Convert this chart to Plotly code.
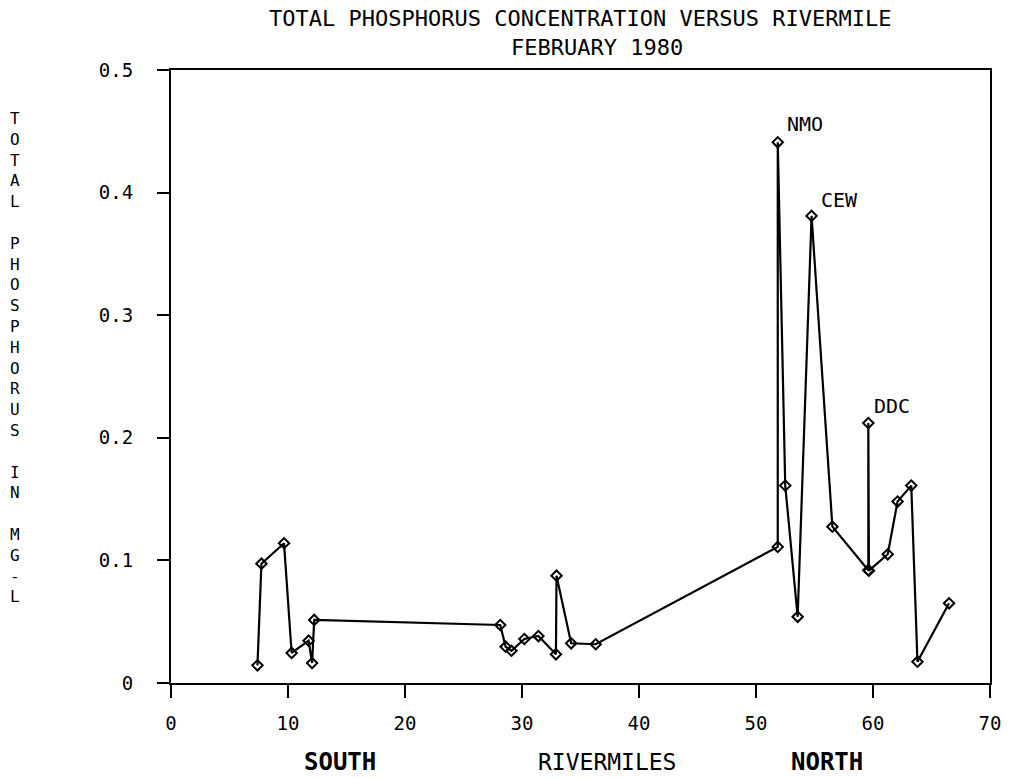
import plotly.graph_objects as go

# River miles (x) and total phosphorus in mg/L (y), in drawing order
rivermile = [7.39, 7.73, 9.66, 10.31, 11.76, 12.06, 12.24,
             28.14, 28.6, 29.1, 30.2, 31.4, 32.9, 32.95, 34.2, 36.3,
             51.86, 51.86, 52.5, 53.56, 54.75, 56.53,
             59.6, 59.6, 59.65, 61.26, 62.1, 63.27, 63.8, 66.5]
phosphorus = [0.0144, 0.0973, 0.114, 0.0245, 0.0345, 0.0163, 0.0514,
              0.0473, 0.0296, 0.0263, 0.0359, 0.0383, 0.0234, 0.0875, 0.0324, 0.0316,
              0.111, 0.441, 0.161, 0.054, 0.381, 0.1275,
              0.092, 0.212, 0.0916, 0.105, 0.148, 0.161, 0.0174, 0.065]

# Station labels
station_names = ["NMO", "CEW", "DDC"]
station_x = [52.5, 55.4, 59.9]
station_y = [0.456, 0.394, 0.2263]

x_ticks = [0, 10, 20, 30, 40, 50, 60, 70]
y_ticks = [0, 0.1, 0.2, 0.3, 0.4, 0.5]
y_tick_text = ["0", "0.1", "0.2", "0.3", "0.4", "0.5"]

title_1 = "TOTAL PHOSPHORUS CONCENTRATION VERSUS RIVERMILE"
title_2 = "FEBRUARY 1980"
y_title = "TOTAL PHOSPHORUS IN MG-L"

FONT = "DejaVu Sans Mono"

fig = go.Figure()
fig.add_trace(go.Scatter(
    x=rivermile, y=phosphorus, mode="lines+markers",
    line=dict(color="black", width=2.2),
    marker=dict(symbol="diamond-open", size=8, color="black",
                line=dict(color="black", width=2)),
    showlegend=False, hoverinfo="x+y",
))

annotations = []
for name, sx, sy in zip(station_names, station_x, station_y):
    annotations.append(dict(x=sx, y=sy, xref="x", yref="y", text=name,
                            showarrow=False, xanchor="left", yanchor="middle",
                            font=dict(family=FONT, size=20, color="black")))

annotations.append(dict(x=0.5, y=1.0, xref="paper", yref="paper", yshift=52,
                        text=title_1, showarrow=False, xanchor="center", yanchor="middle",
                        font=dict(family=FONT, size=22, color="black")))
annotations.append(dict(x=0.52, y=1.0, xref="paper", yref="paper", yshift=23,
                        text=title_2, showarrow=False, xanchor="center", yanchor="middle",
                        font=dict(family=FONT, size=22, color="black")))

ytxt = "<br>".join(ch if ch != " " else "\u00a0" for ch in y_title)
annotations.append(dict(x=-0.1905, y=0.5318, xref="paper", yref="paper",
                        text=ytxt, showarrow=False, xanchor="center", yanchor="middle",
                        font=dict(family=FONT, size=16, color="black")))

annotations.append(dict(x=(341 - 171.3) / 823.9, y=0, xref="paper", yref="paper", yshift=-79,
                        text="<b>SOUTH</b>", showarrow=False, xanchor="center", yanchor="middle",
                        font=dict(family=FONT, size=24, color="black")))
annotations.append(dict(x=(610 - 171.3) / 823.9, y=0, xref="paper", yref="paper", yshift=-79,
                        text="RIVERMILES", showarrow=False, xanchor="center", yanchor="middle",
                        font=dict(family=FONT, size=23, color="black")))
annotations.append(dict(x=(831 - 171.3) / 823.9, y=0, xref="paper", yref="paper", yshift=-79,
                        text="<b>NORTH</b>", showarrow=False, xanchor="center", yanchor="middle",
                        font=dict(family=FONT, size=24, color="black")))

fig.update_layout(
    width=1013, height=778,
    margin=dict(l=171, r=18, t=70, b=95),
    paper_bgcolor="white", plot_bgcolor="white",
    annotations=annotations,
    font=dict(family=FONT, color="black"),
)
fig.update_xaxes(range=[0, 70], tickvals=x_ticks, ticks="outside", ticklen=13, tickwidth=1.8,
                 tickcolor="black", showline=True, linecolor="black", linewidth=2, mirror=True,
                 showgrid=False, zeroline=False, ticklabelstandoff=9,
                 tickfont=dict(family=FONT, size=19, color="black"))
fig.update_yaxes(range=[0, 0.5], tickvals=y_ticks, ticktext=y_tick_text, ticks="outside",
                 ticklen=12, tickwidth=1.8, tickcolor="black", showline=True, linecolor="black",
                 linewidth=2, mirror=True, showgrid=False, zeroline=False, ticklabelstandoff=20,
                 tickfont=dict(family=FONT, size=19, color="black"))

fig.write_html("out.html")
